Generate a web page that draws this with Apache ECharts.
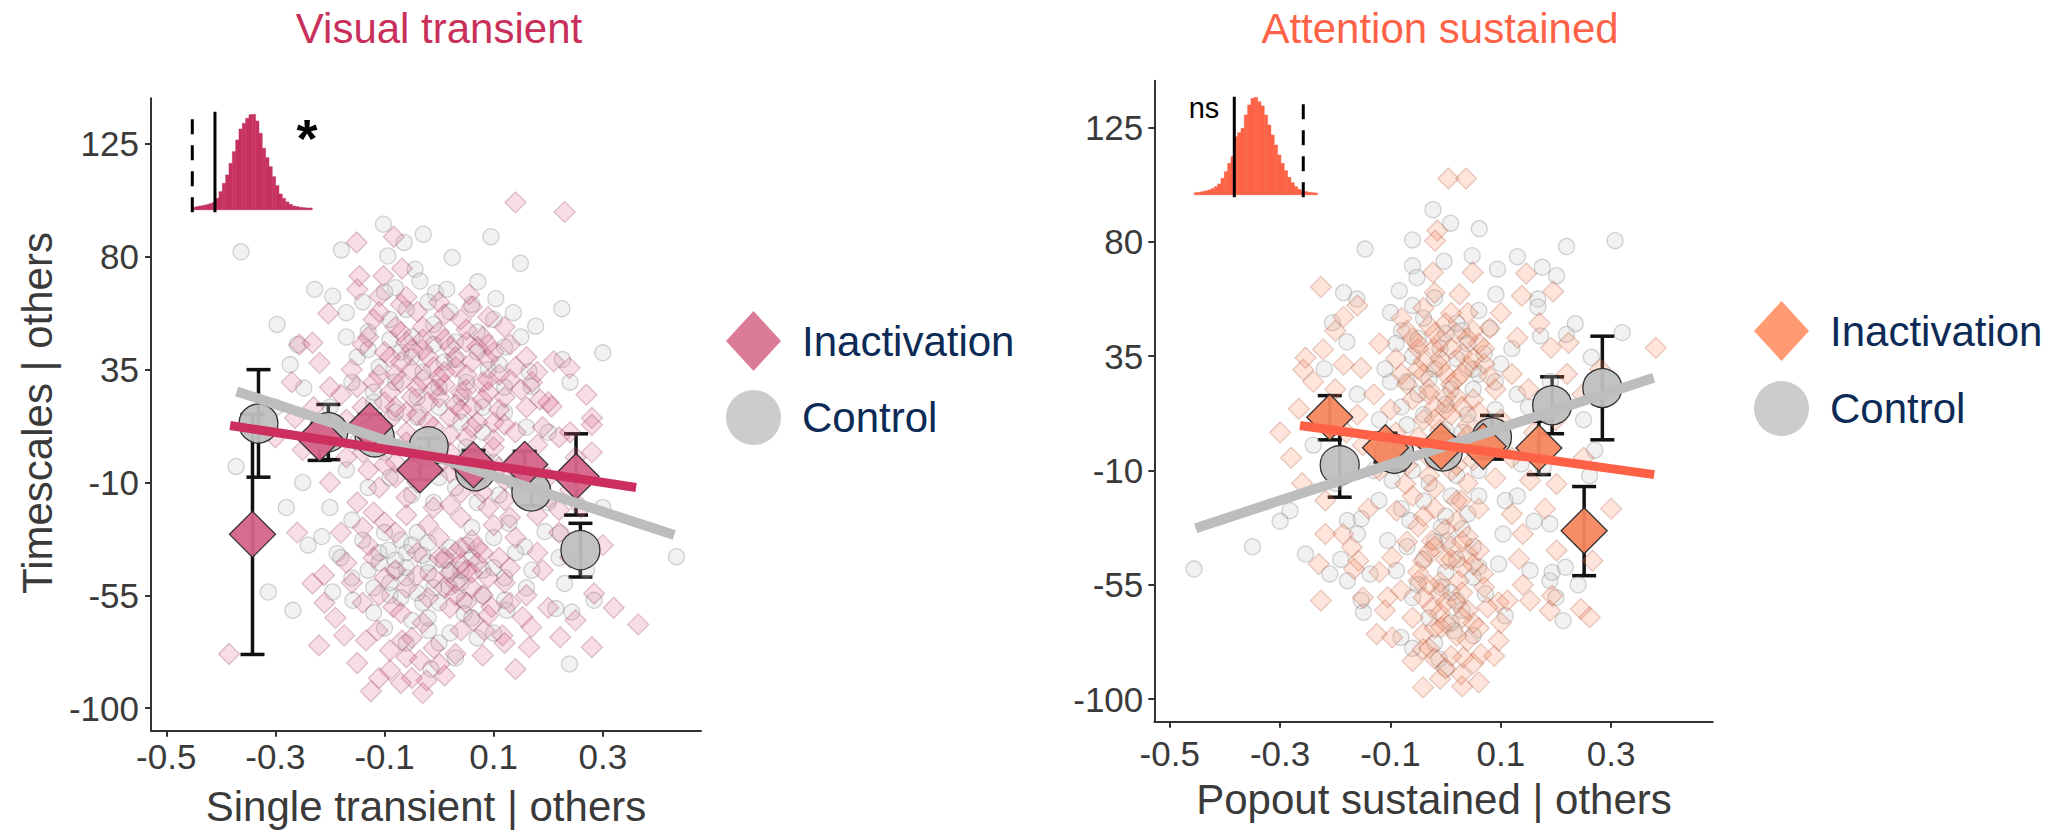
<!DOCTYPE html>
<html>
<head>
<meta charset="utf-8">
<title>Timescales vs. transient / sustained effects</title>
<script src="https://cdn.jsdelivr.net/npm/echarts@6/dist/echarts.min.js"></script>
<style>
  html, body { margin: 0; padding: 0; background: #ffffff; }
  #chart { width: 2067px; height: 832px; }
</style>
</head>
<body>
<div id="chart"></div>
<script>
// ---------- tick labels ----------
const xTicks = [-0.5, -0.3, -0.1, 0.1, 0.3];
const yTicks = [-100, -55, -10, 35, 80, 125];

// ---------- Visual transient panel ----------
// individual sessions: [Single transient | others, Timescales | others]
const visInact = [
  [0.140,101.7],[0.230,97.9],[-0.151,85.7],[-0.083,88],[-0.068,75.3],[-0.146,72.3],[-0.102,72.3],[-0.150,67],
  [-0.109,64.3],[0.055,65],[-0.203,57.4],[-0.232,45.7],[-0.256,45],[-0.219,37.7],[0.210,38.3],[0.239,35.7],
  [0.185,23],[0.206,20.3],[0.280,15.7],[-0.264,15.7],
  [-0.12,55],[-0.08,52],[-0.04,58],[0.0,50],[0.04,55],[0.08,48],[0.12,52],[-0.14,45],[-0.10,42],[-0.06,46],
  [-0.02,40],[0.02,44],[0.06,38],[0.10,42],[0.14,36],[0.17,30],[-0.16,35],[-0.12,30],[-0.08,33],[-0.04,28],
  [0.0,32],[0.04,26],[0.08,30],[0.12,24],[0.16,20],[-0.18,25],[-0.14,20],[-0.10,22],[-0.06,18],[-0.02,22],
  [0.02,16],[0.06,20],[0.10,14],[0.14,10],[-0.05,35],[0.03,36],[-0.09,26],[0.09,26],[-0.01,12],[0.05,8],
  [-0.20,28],[0.19,12],[-0.11,8],[0.0,62],[-0.06,64],[0.06,60],
  [-0.25,3],[-0.30,8],[-0.17,0],[-0.13,-5],[-0.08,-2],[-0.03,2],[0.02,-6],[0.07,-10],[0.11,-4],[0.15,-12],
  [0.20,-8],[0.25,0],[0.28,2],[0.28,13],[0.22,-21],[0.18,-23],[-0.11,-12],[-0.06,-16],[-0.01,-20],[0.04,-14],
  [0.09,-20],[0.13,-24],[-0.15,-18],[-0.20,-10],
  [-0.232,-50.3],[-0.211,-47],[0.284,-54.3],[-0.17,-42],[-0.13,-35],[-0.08,-30],[-0.04,-38],[0.0,-32],
  [0.04,-42.3],[0.05,-45],[0.03,-50],[0.07,-36],[0.11,-40],[-0.10,-48],[-0.06,-52],[-0.02,-56],[0.02,-60],
  [0.08,-55],[0.12,-50],[-0.14,-58],[-0.084,-59.7],[-0.113,-69],[-0.068,-73],[0.063,-65],[0.083,-69],
  [0.096,-59.7],[0.153,-63.7],[0.169,-67.7],[0.116,-71],[0.165,-75.7],[0.222,-71.7],[0.280,-75.7],
  [0.140,-84.4],[0.365,-66.6],[-0.385,-78.4],[-0.125,-93.3],[-0.023,-89],[-0.060,-79.7],[-0.174,-71],
  [-0.134,-73],[-0.035,-81],[0.030,-78.4],[0.001,-82.4],[-0.09,-85],[-0.05,-88],[0.20,-60],[0.25,-65],
  [0.19,-45],[0.24,-40],
  [-0.13,48],[-0.11,58],[-0.07,61],[-0.03,47],[0.01,57],[0.05,46],[0.09,56],[0.13,45],[0.16,40],[-0.15,28],
  [-0.11,33],[-0.07,38],[-0.03,43],[0.01,29],[0.05,33],[0.09,39],[0.13,31],[0.18,34],[-0.17,15],[-0.13,12],
  [-0.09,15],[-0.05,24],[-0.01,27],[0.03,21],[0.07,14],[0.11,19],[0.15,27],[0.20,22],[-0.14,2],[-0.10,-3],
  [-0.06,6],[-0.02,8],[0.02,2],[0.06,-2],[0.10,4],[0.14,-1],[0.18,5],[0.22,8],[-0.08,-8],[-0.04,-10],
  [0.0,-3],[0.04,-24],[0.08,-14],[0.12,-17],[0.16,-6],[0.20,-16],[0.24,-13],[-0.12,-22],[-0.18,-30],
  [-0.14,-28],[-0.10,-26],[-0.06,-23],[-0.02,-27],[0.02,-19],[0.06,-33],[0.10,-27],[0.14,-32],[0.18,-38],
  [0.22,-30],[-0.16,-50],[-0.12,-40],[-0.08,-45],[-0.04,-47],[0.0,-40],[0.03,-38],[0.06,-46],[0.09,-48],
  [0.13,-44],[0.16,-55],[-0.11,-55],[-0.07,-62],[-0.03,-66],[0.01,-52],[0.05,-58],[0.09,-63],[0.13,-58],
  [-0.09,-77],[-0.05,-72],[-0.01,-76],[0.04,-69],[0.08,-79],[0.12,-74],[-0.15,-82],[-0.11,-88],[-0.07,-90],
  [-0.03,-94],[0.01,-87],[-0.19,-64],[-0.22,-75],[0.26,-20],[0.30,-35],[0.27,25],[0.24,10],[-0.23,20],
  [-0.27,30],[-0.26,-30],[-0.21,-58],[0.32,-60],
  [-0.07,50],[-0.03,52],[0.01,47],[0.05,51],[0.09,45],[-0.09,40],[-0.05,43],[-0.01,36],[0.03,40],[0.07,44],
  [0.11,33],[-0.07,30],[-0.03,31],[0.01,34],[0.05,27],[0.09,31],[-0.08,20],[-0.04,17],[0.0,24],[0.04,19],
  [0.08,23],[0.12,13],[-0.06,10],[-0.02,14],[0.02,9],[0.06,12],[0.10,7],[-0.04,-2],[0.0,5],[0.04,-4],
  [0.08,-1],[0.12,-9],[0.01,-40],[0.04,-36],[0.07,-42],[0.02,-46],[0.06,-52],[-0.01,-48],[0.03,-55],[0.08,-38]
];
const visCtrl = [
  [-0.102,93],[-0.029,89],[0.095,88],[-0.064,85.7],[-0.363,82],[-0.179,82.7],[-0.094,80.3],[0.024,79.7],
  [0.149,77.4],[-0.044,75],[-0.035,70.3],[0.071,70],[-0.228,67],[-0.195,64.3],[-0.080,67.7],[-0.007,65.7],
  [0.104,63.3],[0.014,67],[0.225,59.3],[-0.170,57.7],[-0.297,53],[0.177,52.3],[0.136,57.7],[-0.273,37],
  [0.300,41.7],[0.226,39],[0.165,34.3],[0.169,28.3],[-0.248,27.7],
  [-0.13,50],[-0.09,55],[-0.05,48],[-0.01,53],[0.03,46],[0.07,50],[-0.15,40],[-0.11,36],[-0.07,42],
  [-0.03,34],[0.01,38],[0.05,30],[0.09,35],[0.12,44],[-0.12,22],[-0.08,18],[-0.04,24],[0.0,20],[0.04,14],
  [0.08,10],[0.12,18],[-0.19,12],[-0.15,6],[-0.10,2],[-0.05,-4],[0.0,-8],[0.05,4],[0.10,-2],[0.14,-10],
  [-0.372,-3.6],[-0.313,-53.7],[-0.268,-61],[0.435,-39.6],[0.239,-82.4],[-0.215,-31.6],[-0.187,-38.3],
  [-0.158,-57],[-0.195,-53.7],[0.284,-57],[0.230,-50.3],[0.243,-61.7],[0.214,-60.3],[0.194,-29.6],
  [0.222,-30.3],[0.157,-35.6],[0.128,-26.3],[-0.015,-84.4],[-0.019,-69],[0.124,-61],[0.046,-57],
  [0.046,-62.3],[0.018,-51.7],[-0.093,-37],[-0.07,-33],[-0.04,-30],[-0.11,-42],[-0.13,-45],[-0.06,-48],
  [-0.02,-42],[0.02,-36],[0.06,-28],[0.10,-32],[0.08,-45],[0.12,-48],[-0.09,-55],[-0.12,-62],[-0.05,-65],
  [0.0,-74],[0.07,-72],[-0.03,-58],[-0.16,-25],[-0.20,-20],[0.17,-45],[0.20,-18],[0.25,-10],[0.30,-20],
  [-0.25,-10],[-0.22,5],
  [-0.14,62],[-0.10,66],[-0.06,59],[-0.02,62],[0.02,58],[0.06,61],[0.10,55],[-0.17,48],[-0.13,43],[-0.09,47],
  [-0.05,40],[-0.01,45],[0.03,39],[0.07,42],[0.11,37],[0.15,48],[-0.16,30],[-0.12,26],[-0.08,30],[-0.04,16],
  [0.0,28],[0.04,24],[0.08,20],[0.12,28],[0.16,12],[-0.20,20],[-0.17,-5],[-0.13,-12],[-0.09,-8],[-0.05,-15],
  [-0.01,-18],[0.03,-12],[0.07,-18],[0.11,-15],[-0.18,-40],[-0.14,-33],[-0.10,-30],[-0.06,-38],[-0.02,-34],
  [0.02,-45],[0.06,-40],[0.10,-44],[0.14,-38],[-0.16,-48],[-0.12,-52],[-0.08,-45],[-0.04,-54],[0.0,-58],
  [0.04,-50],[0.08,-55],[0.12,-57],[0.16,-52],[-0.10,-68],[-0.06,-74],[-0.02,-64],[0.02,-70],[0.06,-64],
  [0.10,-70],[0.03,-80],[-0.24,-35],[-0.28,-20],[0.22,-40],[0.27,-45],[0.20,10],[0.24,30],[-0.26,45],[-0.30,20],
  [-0.11,-38],[-0.08,-41],[-0.05,-35],[-0.02,-46],[0.01,-41],[-0.09,-50],[-0.06,-44],[-0.03,-39],[0.04,-45],
  [-0.07,-56],[-0.01,-52],[0.05,-35]
];
// binned means: [x, mean, lower, upper]
const visInactMean = [
  [-0.342,-30.7,-78.6,17.1],[-0.219,7.6,-1.2,16.4],[-0.127,12.5,7.4,17.1],[-0.035,-5.0,-8.9,-1.1],
  [0.063,-3.0,-8.9,2.8],[0.157,-2.8,-7.9,2.4],[0.251,-7.6,-23.0,9.4]
];
const visCtrlMean = [
  [-0.331,13.5,-7.9,35.0],[-0.203,10.1,-0.9,21.1],[-0.118,8.0,4.0,12.0],[-0.019,4.4,0.8,7.6],
  [0.066,-5.5,-9.5,-1.5],[0.169,-13.6,-19.3,-7.9],[0.259,-37.0,-47.7,-26.3]
];
// fitted lines: end points
const visInactFit = [[-0.383,12.7],[0.361,-12.0]];
const visCtrlFit = [[-0.371,26.3],[0.431,-31.0]];
// permutation distribution (bin counts) and reference lines (bin units)
const visHist = [3,5,7,9,11,14,18,30,50,75,100,135,170,205,238,255,270,281,282,262,225,180,152,125,95,68,43,30,19,12,7,5,3,2,1,1];
const visObserved = 6.8;
const visCritical = 0;

// ---------- Attention sustained panel ----------
const attInact = [
  [0.005,105],[0.037,105],[-0.015,84.5],[-0.019,80.5],[0.049,68],[0.146,67.6],[-0.023,68],[-0.226,62.3],
  [0.025,59.4],[0.138,58.8],[0.195,60.5],[-0.185,50.5],[0.381,38.3],[0.223,40.3],[0.191,38.3],[0.130,42.3],
  [-0.222,37.7],[-0.254,34.4],[-0.258,29.7],[-0.266,14.3],[-0.185,31.7],[-0.153,30.4],[0.248,19.9],
  [-0.08,50],[-0.04,54],[0.0,48],[0.04,52],[0.08,46],[-0.06,42],[-0.02,38],[0.02,44],[0.06,40],[-0.09,34],
  [-0.05,30],[-0.01,34],[0.03,28],[0.07,32],[-0.07,24],[-0.03,20],[0.01,24],[0.05,18],[0.09,22],[-0.10,14],
  [-0.04,10],[0.0,14],[0.04,8],[0.10,10],[-0.13,20],[-0.16,12],[0.12,28],[0.15,22],[-0.20,22],[-0.12,40],
  [0.10,52],[-0.02,60],
  [-0.218,-21.8],[-0.230,-46.8],[-0.226,-61.2],[-0.186,-35],[-0.170,-40.2],[-0.158,-45.5],[-0.125,-74.4],
  [-0.097,-75.7],[-0.041,-95.4],[-0.041,-80.3],[0.028,-90.2],[0.060,-93.4],[0.032,-83.6],[0.064,-82.3],
  [0.088,-83],[0.096,-77],[0.096,-61.9],[0.112,-61.2],[0.120,-27.1],[0.133,-44.8],[0.153,-61.2],
  [0.189,-65.2],[0.193,-59.3],[0.245,-64.5],[0.261,-67.8],[0.266,-45.5],[0.201,-41.5],[0.201,-15.3],
  [0.153,-13.9],[0.040,-42.9],[-0.025,-37.6],[-0.041,-45.5],[-0.049,-53.4],[0.024,-53.4],[-0.025,-63.9],
  [-0.008,-71.8],[-0.041,-74.4],[0.040,-77],[0.068,-50.7],[0.060,-41.5],[0.028,-21.8],[-0.073,-15.3],
  [-0.089,-25.8],[-0.097,-44.2],[-0.081,-57.3],[-0.218,-35],[-0.166,-48.8],[-0.105,-59.9],[0.076,-63.9],
  [-0.03,-5],[0.01,-10],[0.04,-15],[-0.02,-25],[0.02,-30],[-0.05,-32],[0.0,-45],[0.03,-58],[-0.01,-66],
  [0.05,-70],[-0.06,-85],[0.0,-88],[-0.28,-5],[-0.30,5],[0.30,-25],[0.25,-5],[-0.26,-15],
  [-0.07,45],[-0.03,47],[0.01,52],[0.05,45],[-0.05,38],[-0.01,41],[0.03,36],[0.07,38],[-0.08,28],[-0.04,33],
  [0.0,28],[0.04,31],[0.08,27],[-0.06,18],[-0.02,15],[0.02,19],[0.06,13],[-0.09,5],[-0.05,3],[-0.01,6],
  [0.03,1],[0.07,4],[-0.07,-8],[-0.03,-12],[0.01,-3],[0.05,-6],[0.09,-13],[-0.06,-20],[-0.02,-17],[0.02,-22],
  [0.06,-25],[-0.04,-28],[0.0,-33],[0.04,-36],[-0.07,-38],[-0.03,-42],[0.01,-40],[0.05,-47],[-0.05,-50],
  [-0.01,-54],[0.03,-48],[0.07,-56],[-0.04,-60],[0.0,-62],[0.04,-65],[-0.06,-68],[-0.02,-72],[0.02,-75],
  [0.06,-72],[-0.03,-80],[0.01,-83],[0.05,-86],[-0.01,-92],[0.03,-95],[-0.12,-10],[-0.15,0],[-0.18,5],
  [-0.14,-25],[-0.12,-50],[0.12,-5],[0.16,5],[0.20,10],[0.14,-35],[0.18,-25],[-0.20,45],[-0.24,25],
  [-0.16,55],[0.17,48],[0.22,28],[0.28,30],[-0.11,-65],[0.10,-70],[0.14,-55],[-0.15,-60],
  [-0.05,40],[-0.02,44],[0.01,38],[0.04,42],[-0.04,28],[-0.01,31],[0.02,26],[0.05,34],[-0.03,22],[0.0,19],
  [0.03,15],[-0.02,10],[0.01,12],[0.04,4],[-0.01,-2],[0.02,-8],[-0.02,-40],[0.01,-45],[0.03,-38],[-0.01,-58],
  [0.02,-62],[-0.03,-55],[0.0,-70],[0.03,-68],[-0.02,-84]
];
const attCtrl = [
  [-0.023,92.7],[0.009,87.4],[0.061,85.2],[-0.060,80.8],[-0.146,77.2],[0.219,78.2],[0.307,80.5],[0.048,74.6],
  [0.130,74.2],[-0.060,70.6],[-0.003,72.4],[0.094,69.3],[0.175,70],[0.201,66.7],[-0.052,66],[-0.185,60],
  [-0.161,57.5],[-0.084,60.8],[0.167,57.5],[0.091,59.4],[-0.100,52.2],[-0.205,48.2],[0.235,47.8],
  [0.167,54.4],[0.172,43],[0.219,43.6],[0.320,44.3],[0.264,34.6],[-0.179,40.7],
  [-0.08,45],[-0.04,50],[0.0,44],[0.04,40],[0.08,46],[-0.06,35],[-0.02,30],[0.02,34],[0.06,28],[0.10,32],
  [-0.10,25],[-0.05,20],[0.0,16],[0.05,22],[0.09,14],[0.13,20],[-0.07,8],[0.03,5],
  [-0.456,-48.8],[-0.282,-25.8],[-0.254,-42.9],[-0.210,-50.7],[-0.178,-53.4],[-0.178,-29.7],[-0.153,-29],
  [-0.153,-61.2],[-0.149,-65.8],[-0.081,-75.7],[-0.012,-84.2],[0.108,-67.2],[0.108,-21.8],[0.104,-35],
  [0.096,-46.8],[0.153,-49.4],[0.189,-53.4],[0.193,-50.1],[0.213,-69.1],[0.217,-48.1],[0.189,-31],
  [0.261,-12],[0.177,-8.7],[0.137,-7.4],[0.004,-37.6],[-0.008,-32.3],[-0.008,-56],[0.020,-61.2],
  [0.016,-73.1],[0.072,-58.6],[0.040,-27.1],[-0.097,-13.9],[-0.121,-21.8],[-0.065,-29.7],[-0.105,-37.6],
  [-0.089,-49.4],[-0.137,-50.7],
  [-0.03,-15],[0.01,-20],[0.05,-40],[-0.04,-45],[0.0,-50],[-0.06,-60],[0.03,-65],[-0.02,-78],[0.06,-10],
  [-0.20,-15],[-0.24,0],[0.27,-2],
  [-0.06,55],[-0.02,58],[0.02,48],[0.06,53],[-0.09,40],[-0.05,42],[-0.01,38],[0.03,45],[0.07,36],[-0.11,30],
  [-0.07,25],[-0.03,26],[0.01,22],[0.05,30],[0.09,25],[0.12,38],[-0.12,10],[-0.08,15],[-0.04,12],[0.0,6],
  [0.04,12],[0.08,3],[-0.10,-5],[-0.06,-10],[-0.02,-6],[0.02,-12],[0.06,-20],[-0.08,-25],[-0.04,-22],
  [0.0,-28],[0.03,-33],[-0.07,-40],[-0.02,-38],[0.02,-45],[0.06,-48],[-0.05,-55],[0.01,-58],[0.05,-52],
  [-0.03,-68],[0.01,-70],[0.05,-75],[-0.06,-80],[0.0,-88],[-0.16,-35],[-0.19,-45],[-0.13,-10],[-0.16,20],
  [-0.22,30],[0.13,-20],[0.16,-30],[0.20,-60],[0.24,-55],[0.15,15],[0.19,25],[0.25,10],[-0.30,-30],[-0.35,-40]
];
const attInactMean = [
  [-0.210,11.0,2.1,19.5],[-0.109,-1.0,-6.7,4.7],[-0.008,-0.5,-3.3,2.3],[0.068,-0.5,-5.0,4.5],
  [0.169,-1.1,-11.6,9.4],[0.251,-33.7,-51.4,-16.3]
];
const attCtrlMean = [
  [-0.192,-7.9,-20.5,4.7],[-0.093,-3.4,-9.7,2.9],[-0.005,-2.5,-6.5,1.5],[0.084,3.1,-5.5,11.7],
  [0.193,15.7,4.5,26.9],[0.284,22.5,2.1,42.9]
];
const attInactFit = [[-0.264,7.7],[0.378,-11.6]];
const attCtrlFit = [[-0.453,-32.7],[0.377,26.5]];
const attHist = [2,3,5,7,10,14,20,28,45,65,90,110,170,182,195,235,265,285,288,275,262,235,205,175,145,115,90,68,48,32,20,12,7,5,3,2,1];
const attObserved = 12;
const attCritical = 32.7;

// ---------- styling ----------
const FONT = '"Liberation Sans", Arial, Helvetica, sans-serif';
const AXIS_COLOR = '#333333';
const TEXT_COLOR = '#3a3a3a';
const LEGEND_TEXT = '#0c2a56';

const panels = [
  {
    title: 'Visual transient', titleColor: '#c8305b', xName: 'Single transient | others',
    grid: { left: 151, top: 98.3, width: 550, height: 632.4 },
    xRange: [-0.528, 0.48], yRange: [-109, 143.2], xLabelMargin: 8, yLabelMargin: 12,
    inact: visInact, ctrl: visCtrl, inactMean: visInactMean, ctrlMean: visCtrlMean,
    inactFit: visInactFit, ctrlFit: visCtrlFit,
    smallFill: 'rgba(224,105,145,0.28)', smallBorder: 'rgba(135,50,80,0.34)',
    meanFill: '#d5648a', fitColor: '#cc2f5e', legendFill: '#dc7b95',
    hist: visHist, histColor: '#c93260', histEdge: '#b82955', observed: visObserved, critical: visCritical,
    inset: { left: 192.3, top: 108.3, width: 120, height: 105 },
    legendPos: { left: 726, top: 311, gap: 19 },
    titlePos: [439, 28], xNamePos: [426, 806], mark: '*', markPos: [307, 138], markSize: 54, markBold: true
  },
  {
    title: 'Attention sustained', titleColor: '#ff6347', xName: 'Popout sustained | others',
    grid: { left: 1154.3, top: 80.7, width: 558.4, height: 641 },
    xRange: [-0.528, 0.484], yRange: [-108.9, 143.5], xLabelMargin: 14, yLabelMargin: 11,
    inact: attInact, ctrl: attCtrl, inactMean: attInactMean, ctrlMean: attCtrlMean,
    inactFit: attInactFit, ctrlFit: attCtrlFit,
    smallFill: 'rgba(250,135,95,0.28)', smallBorder: 'rgba(165,80,50,0.34)',
    meanFill: '#f6875f', fitColor: '#ff6146', legendFill: '#ff9a73',
    hist: attHist, histColor: '#ff6347', histEdge: '#ee5638', observed: attObserved, critical: attCritical,
    inset: { left: 1194.3, top: 93.3, width: 123.3, height: 105 },
    legendPos: { left: 1754, top: 301, gap: 20 },
    titlePos: [1440, 28], xNamePos: [1434, 799], mark: 'ns', markPos: [1204, 108], markSize: 29, markBold: false
  }
];

const grid = [], xAxis = [], yAxis = [], series = [], legend = [], graphic = [];

function mainAxis(range, ticks, margin, gridIndex) {
  return {
    type: 'value', gridIndex, min: range[0], max: range[1],
    axisLine: { show: true, onZero: false, lineStyle: { color: AXIS_COLOR, width: 2 } },
    axisTick: { show: true, customValues: ticks, length: 6, lineStyle: { color: AXIS_COLOR, width: 2 } },
    axisLabel: { show: true, customValues: ticks, margin, fontSize: 35, fontFamily: FONT, color: TEXT_COLOR,
                 formatter: v => String(v) },
    splitLine: { show: false }
  };
}

function errorBars(data, axisIndex) {
  return {
    type: 'custom', xAxisIndex: axisIndex, yAxisIndex: axisIndex, silent: true,
    data: data.map(d => [d[0], d[2], d[3]]),
    encode: { x: 0, y: [1, 2] },
    renderItem(params, api) {
      const lo = api.coord([api.value(0), api.value(1)]);
      const hi = api.coord([api.value(0), api.value(2)]);
      const hw = 12;
      const st = { stroke: '#111111', lineWidth: 3.5 };
      return {
        type: 'group', children: [
          { type: 'line', shape: { x1: lo[0], y1: lo[1], x2: hi[0], y2: hi[1] }, style: st },
          { type: 'line', shape: { x1: lo[0] - hw, y1: lo[1], x2: lo[0] + hw, y2: lo[1] }, style: st },
          { type: 'line', shape: { x1: hi[0] - hw, y1: hi[1], x2: hi[0] + hw, y2: hi[1] }, style: st }
        ]
      };
    }
  };
}

panels.forEach((p, i) => {
  const main = i * 2;       // main scatter axes
  const ins = i * 2 + 1;    // histogram inset axes

  grid.push(p.grid);
  grid.push(p.inset);
  xAxis.push(mainAxis(p.xRange, xTicks, p.xLabelMargin, main));
  yAxis.push(mainAxis(p.yRange, yTicks, p.yLabelMargin, main));
  xAxis.push({ type: 'value', gridIndex: ins, min: 0, max: p.hist.length, show: false });
  yAxis.push({ type: 'value', gridIndex: ins, min: -15, max: 300, show: false });

  // individual sessions
  series.push({
    name: 'Control', type: 'scatter', xAxisIndex: main, yAxisIndex: main, silent: true,
    symbol: 'circle', symbolSize: 16, data: p.ctrl,
    itemStyle: { color: 'rgba(205,205,205,0.35)', borderColor: 'rgba(95,95,95,0.33)', borderWidth: 1.3 }
  });
  series.push({
    name: 'Inactivation', type: 'scatter', xAxisIndex: main, yAxisIndex: main, silent: true,
    symbol: 'diamond', symbolSize: 21, data: p.inact,
    itemStyle: { color: p.smallFill, borderColor: p.smallBorder, borderWidth: 1.3 }
  });
  // binned means
  series.push({
    name: 'Control', type: 'scatter', xAxisIndex: main, yAxisIndex: main, silent: true,
    symbol: 'circle', symbolSize: 39, data: p.ctrlMean.map(d => [d[0], d[1]]),
    itemStyle: { color: '#bfbfbf', borderColor: '#2a2a2a', borderWidth: 1.3, opacity: 0.95 }
  });
  series.push({
    name: 'Inactivation', type: 'scatter', xAxisIndex: main, yAxisIndex: main, silent: true,
    symbol: 'diamond', symbolSize: 46, data: p.inactMean.map(d => [d[0], d[1]]),
    itemStyle: { color: p.meanFill, borderColor: '#2a2a2a', borderWidth: 1.3, opacity: 0.95 }
  });
  series.push(errorBars(p.ctrlMean, main));
  series.push(errorBars(p.inactMean, main));
  // linear fits
  series.push({
    type: 'line', xAxisIndex: main, yAxisIndex: main, silent: true, symbol: 'none', data: p.ctrlFit,
    lineStyle: { color: '#bdbdbd', width: 10, cap: 'butt' }
  });
  series.push({
    type: 'line', xAxisIndex: main, yAxisIndex: main, silent: true, symbol: 'none', data: p.inactFit,
    lineStyle: { color: p.fitColor, width: 9, cap: 'butt' }
  });

  // permutation histogram
  series.push({
    type: 'custom', xAxisIndex: ins, yAxisIndex: ins, silent: true,
    data: p.hist.map((c, k) => [k, c]),
    encode: { x: 0, y: 1 },
    renderItem(params, api) {
      const k = api.value(0), c = api.value(1);
      const a = api.coord([k, c]);
      const b = api.coord([k + 1, 0]);
      return {
        type: 'rect',
        shape: { x: a[0], y: a[1], width: b[0] - a[0], height: b[1] - a[1] + 1.5 },
        style: { fill: p.histColor, stroke: p.histEdge, lineWidth: 0.4 }
      };
    }
  });
  series.push({
    type: 'line', xAxisIndex: ins, yAxisIndex: ins, silent: true, symbol: 'none',
    data: [[p.critical, -12], [p.critical, 290]],
    lineStyle: { color: '#000000', width: 3, type: [15, 11] }
  });
  series.push({
    type: 'line', xAxisIndex: ins, yAxisIndex: ins, silent: true, symbol: 'none',
    data: [[p.observed, -12], [p.observed, 290]],
    lineStyle: { color: '#000000', width: 3 }
  });

  legend.push({
    orient: 'vertical', left: p.legendPos.left, top: p.legendPos.top, padding: 0,
    itemWidth: 55, itemHeight: 60, itemGap: p.legendPos.gap, selectedMode: false,
    textStyle: { fontSize: 42, fontFamily: FONT, color: LEGEND_TEXT, padding: [0, 0, 0, 16] },
    data: [
      { name: 'Inactivation', icon: 'diamond', itemStyle: { color: p.legendFill, borderWidth: 0, opacity: 1 } },
      { name: 'Control', icon: 'circle', itemStyle: { color: '#cccccc', borderWidth: 0, opacity: 1 } }
    ]
  });

  graphic.push({
    type: 'text', x: p.titlePos[0], y: p.titlePos[1], silent: true,
    style: { text: p.title, fill: p.titleColor, fontSize: 42, fontFamily: FONT,
             align: 'center', verticalAlign: 'middle' }
  });
  graphic.push({
    type: 'text', x: p.xNamePos[0], y: p.xNamePos[1], silent: true,
    style: { text: p.xName, fill: TEXT_COLOR, fontSize: 42, fontFamily: FONT,
             align: 'center', verticalAlign: 'middle' }
  });
  graphic.push({
    type: 'text', x: p.markPos[0], y: p.markPos[1], silent: true,
    style: { text: p.mark, fill: '#000000', fontSize: p.markSize, fontFamily: FONT,
             fontWeight: p.markBold ? 'bold' : 'normal', align: 'center', verticalAlign: 'middle' }
  });
});

graphic.push({
  type: 'text', x: 37, y: 413, rotation: Math.PI / 2, silent: true,
  style: { text: 'Timescales | others', fill: TEXT_COLOR, fontSize: 42, fontFamily: FONT,
           align: 'center', verticalAlign: 'middle' }
});

const chart = echarts.init(document.getElementById('chart'), null, { renderer: 'svg', width: 2067, height: 832 });
chart.setOption({
  backgroundColor: '#ffffff',
  animation: false,
  tooltip: { show: false },
  grid, xAxis, yAxis, series, legend, graphic
});
</script>
</body>
</html>
